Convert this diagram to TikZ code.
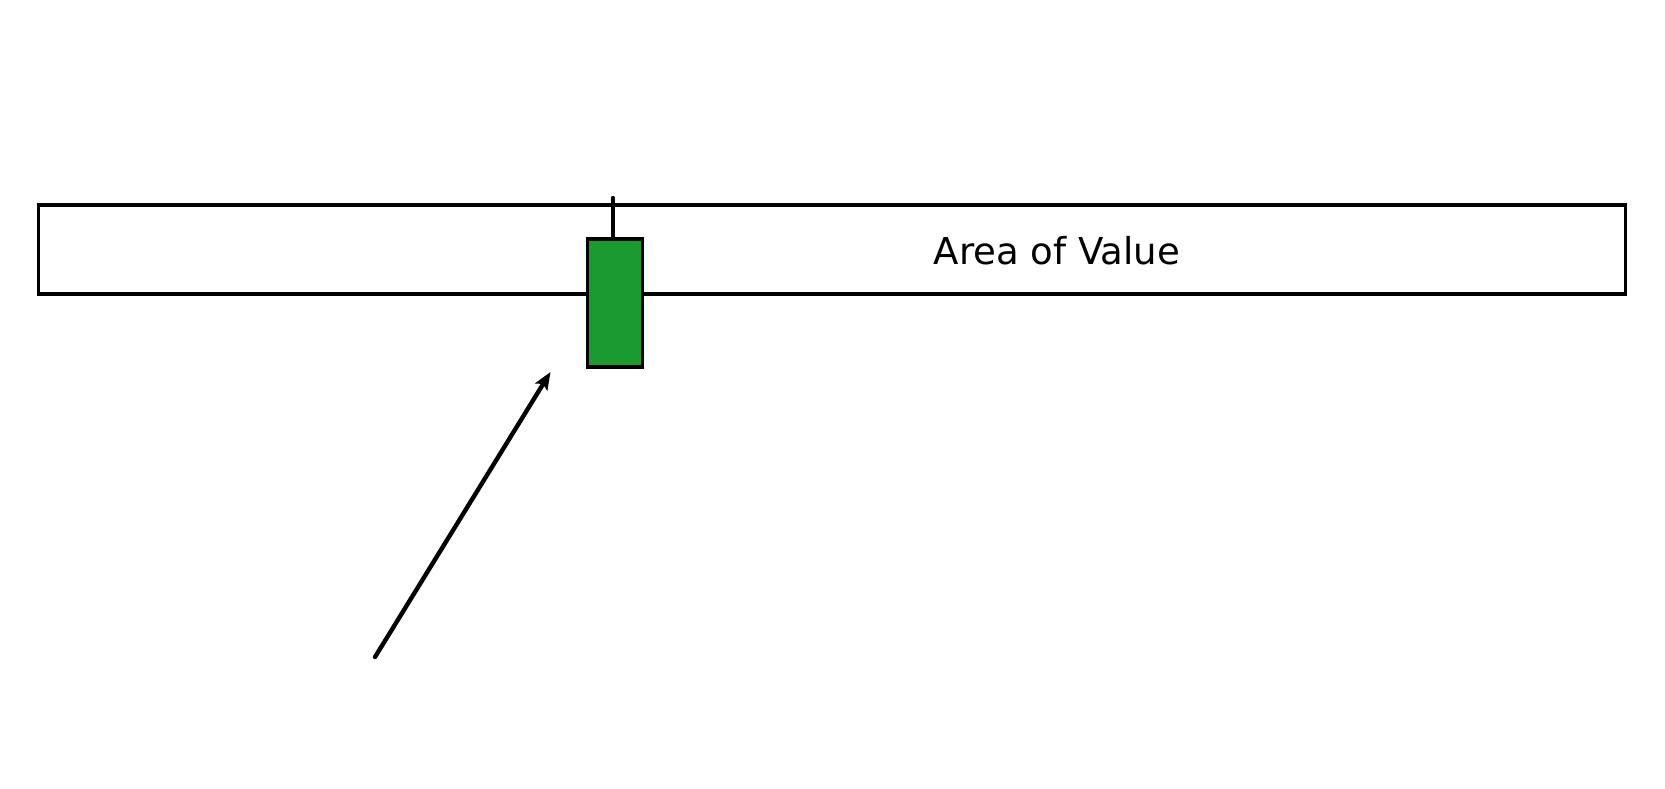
\documentclass[tikz,border=0pt]{standalone}
\usepackage{fontspec}
\setmainfont{DejaVu Sans}
\usepackage{tikz}
\usetikzlibrary{arrows.meta}
\definecolor{candlegreen}{RGB}{27,154,46}

\begin{document}
\begin{tikzpicture}[x=0.02cm,y=-0.02cm]
          \useasboundingbox (0,0) rectangle (1665,788);
          \node[draw,line width=1.8pt,minimum width=31.76cm,minimum height=1.78cm,inner sep=0pt] (zone) at (832,249.5) {};
          \node[font=\fontsize{21.1}{25}\selectfont] (label) at (1057,251) {Area of Value};
          \node[draw,fill=candlegreen,line width=1.9pt,minimum width=1.1cm,minimum height=2.56cm,inner sep=0pt] (body) at (615,303) {};
          \coordinate (high) at (612.7,198);
          \draw[line width=2.5pt,line cap=round] (high) -- (high |- body.north);
          \coordinate (start) at (375,657);
          \coordinate (tip) at (550.5,372);
          \draw[-{Stealth[length=10pt,width=8pt,inset=2pt]},line width=2.5pt,line cap=round] (start) -- (tip);
        \end{tikzpicture}
\end{document}
